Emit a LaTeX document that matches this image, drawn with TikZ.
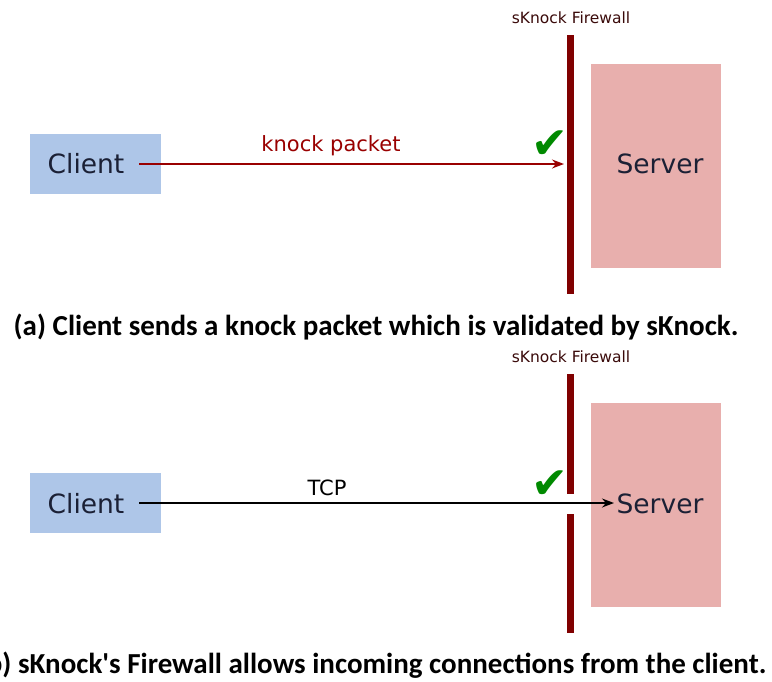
\documentclass[tikz,border=0pt]{standalone}
\usepackage{fontspec}
\setmainfont{DejaVu Sans}
\newfontfamily\capfont{Carlito}
\usetikzlibrary{arrows.meta}
\definecolor{fwred}{HTML}{800000}
\definecolor{arrred}{HTML}{990000}
\definecolor{srvpink}{HTML}{E8AFAD}
\definecolor{clblue}{HTML}{AEC6E8}
\definecolor{txtdark}{HTML}{1B2035}
\definecolor{chkgreen}{HTML}{008A00}
\definecolor{fwlab}{HTML}{3A0A0A}
\tikzset{
  bigtext/.style={font=\fontsize{26.5}{30}\selectfont, text=txtdark},
  fwlabel/.style={font=\fontsize{15.5}{18}\selectfont, text=fwlab},
  wall/.style={draw=fwred, line width=7pt},
  chk/.style={font=\fontsize{44}{48}\selectfont, text=chkgreen, inner sep=0pt},
  caption/.style={font=\capfont\bfseries\fontsize{29}{33}\selectfont, text=black},
  lab/.style={font=\fontsize{21}{24}\selectfont},
  conn/.style={line width=1.4pt, -{Stealth[length=12pt,width=9pt,inset=4pt]}},
}
\begin{document}
\begin{tikzpicture}[x=1pt,y=-1pt]
\useasboundingbox (0,0) rectangle (772,681);
% ---------- (a)
\node[fwlabel] (fla) at (571,18) {sKnock Firewall};
\fill[srvpink] (591,64) rectangle (721,268);
\node[bigtext] (srva) at (660,164) {Server};
\fill[clblue] (30,134) rectangle (161,194);
\node[bigtext] (cla) at (86,164) {Client};
\coordinate (wta) at (570.5,35);
\coordinate (wba) at (570.5,294);
\draw[wall] (wta) -- (wba);
\coordinate (sa) at (139,164);
\coordinate (ea) at (564,164);
\draw[conn, arrred] (sa) -- (ea);
\node[lab, text=arrred] (laba) at (331,146) {knock packet};
\node[chk] (cka) at (550,145) {✔};
\node[caption] (capa) at (376,327) {(a) Client sends a knock packet which is validated by sKnock.};
% ---------- (b)
\node[fwlabel] (flb) at (571,357) {sKnock Firewall};
\fill[srvpink] (591,403) rectangle (721,607);
\node[bigtext] (srvb) at (660,504) {Server};
\fill[clblue] (30,473) rectangle (161,533);
\node[bigtext] (clb) at (86,504) {Client};
\coordinate (wtb) at (570.5,374);
\coordinate (wmb) at (570.5,494);
\coordinate (wnb) at (570.5,514);
\coordinate (wbb) at (570.5,633);
\draw[wall] (wtb) -- (wmb);
\draw[wall] (wnb) -- (wbb);
\coordinate (sb) at (139,503);
\coordinate (eb) at (614,503);
\draw[conn, black] (sb) -- (eb);
\node[lab, text=black] (labb) at (327,488) {TCP};
\node[chk] (ckb) at (550,485) {✔};
\node[caption, anchor=east] (capb) at (770,665) {(b) sKnock's Firewall allows incoming connections from the client.};
\end{tikzpicture}
\end{document}
